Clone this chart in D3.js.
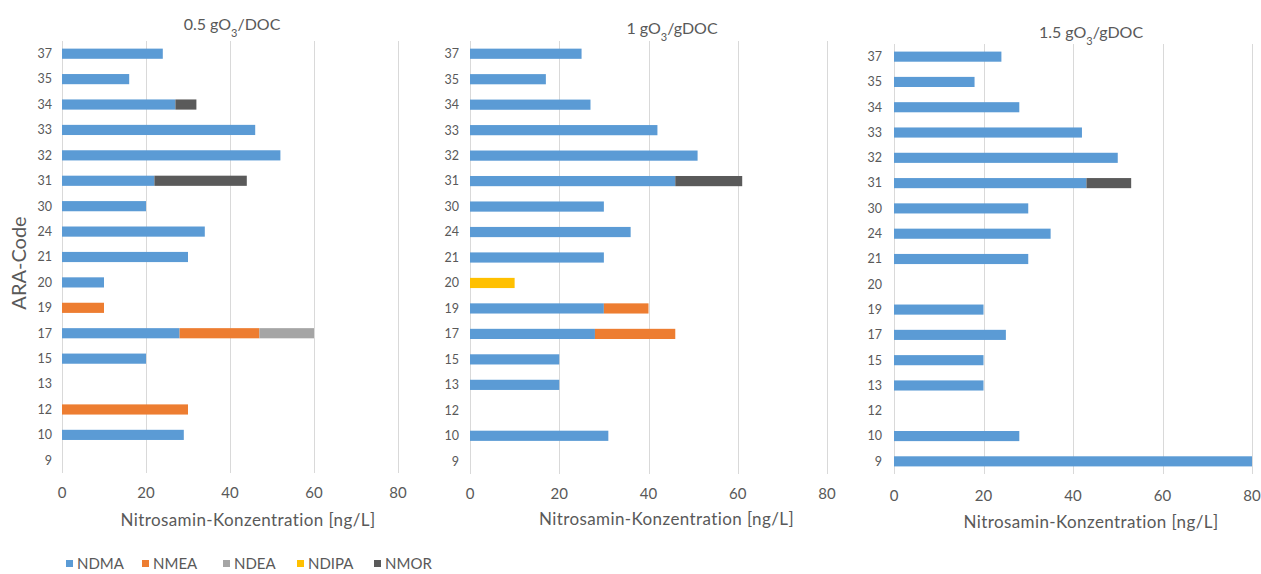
<!DOCTYPE html>
<html>
<head>
<meta charset="utf-8">
<script src="https://cdn.jsdelivr.net/npm/d3@7"></script>
<style>
  body { margin: 0; background: #fff; }
  svg text { font-family: Lato, "Open Sans", sans-serif; fill: #595959; }
</style>
</head>
<body>
<div id="chart"></div>
<script>
// ARA codes, top to bottom
var codes = ["37", "35", "34", "33", "32", "31", "30", "24", "21", "20", "19", "17", "15", "13", "12", "10", "9"];
var seriesNames = ["NDMA", "NMEA", "NDEA", "NDIPA", "NMOR"];
var seriesColors = ["#5b9bd5", "#ed7d31", "#a5a5a5", "#ffc000", "#5a5a5a"];
var xTicks = [0, 20, 40, 60, 80];

// 0.5 gO3/DOC
var ndma05  = [24, 16, 27, 46, 52, 22, 20, 34, 30, 10, 0, 28, 20, 0, 0, 29, 0];
var nmea05  = [0, 0, 0, 0, 0, 0, 0, 0, 0, 0, 10, 19, 0, 0, 30, 0, 0];
var ndea05  = [0, 0, 0, 0, 0, 0, 0, 0, 0, 0, 0, 13, 0, 0, 0, 0, 0];
var ndipa05 = [0, 0, 0, 0, 0, 0, 0, 0, 0, 0, 0, 0, 0, 0, 0, 0, 0];
var nmor05  = [0, 0, 5, 0, 0, 22, 0, 0, 0, 0, 0, 0, 0, 0, 0, 0, 0];

// 1 gO3/gDOC
var ndma10  = [25, 17, 27, 42, 51, 46, 30, 36, 30, 0, 30, 28, 20, 20, 0, 31, 0];
var nmea10  = [0, 0, 0, 0, 0, 0, 0, 0, 0, 0, 10, 18, 0, 0, 0, 0, 0];
var ndea10  = [0, 0, 0, 0, 0, 0, 0, 0, 0, 0, 0, 0, 0, 0, 0, 0, 0];
var ndipa10 = [0, 0, 0, 0, 0, 0, 0, 0, 0, 10, 0, 0, 0, 0, 0, 0, 0];
var nmor10  = [0, 0, 0, 0, 0, 15, 0, 0, 0, 0, 0, 0, 0, 0, 0, 0, 0];

// 1.5 gO3/gDOC
var ndma15  = [24, 18, 28, 42, 50, 43, 30, 35, 30, 0, 20, 25, 20, 20, 0, 28, 80];
var nmea15  = [0, 0, 0, 0, 0, 0, 0, 0, 0, 0, 0, 0, 0, 0, 0, 0, 0];
var ndea15  = [0, 0, 0, 0, 0, 0, 0, 0, 0, 0, 0, 0, 0, 0, 0, 0, 0];
var ndipa15 = [0, 0, 0, 0, 0, 0, 0, 0, 0, 0, 0, 0, 0, 0, 0, 0, 0];
var nmor15  = [0, 0, 0, 0, 0, 10, 0, 0, 0, 0, 0, 0, 0, 0, 0, 0, 0];

var width = 1261, height = 574;

var panels = [
  {title: ["0.5 gO", "3", "/DOC"], cols: [ndma05, nmea05, ndea05, ndipa05, nmor05],
   x0: 62, x1: 398, top: 41, bottom: 473, titleX: 232, titleY: 24, tickY: 493, labelY: 520, yLabelX: 52},
  {title: ["1 gO", "3", "/gDOC"], cols: [ndma10, nmea10, ndea10, ndipa10, nmor10],
   x0: 470, x1: 827, top: 41, bottom: 474, titleX: 672, titleY: 28, tickY: 494, labelY: 519, yLabelX: 459},
  {title: ["1.5 gO", "3", "/gDOC"], cols: [ndma15, nmea15, ndea15, ndipa15, nmor15],
   x0: 894, x1: 1252, top: 44, bottom: 474, titleX: 1091, titleY: 32, tickY: 496, labelY: 522, yLabelX: 882}
];

var svg = d3.select("#chart").append("svg")
    .attr("width", width)
    .attr("height", height);

panels.forEach(function(p) {
  var rows = codes.map(function(c, i) {
    var r = {code: c};
    seriesNames.forEach(function(s, j) { r[s] = p.cols[j][i]; });
    return r;
  });
  var stacked = d3.stack().keys(seriesNames)(rows);

  var x = d3.scaleLinear().domain([0, 80]).range([p.x0, p.x1]);
  var y = d3.scaleBand().domain(codes).range([p.top, p.bottom])
      .paddingInner(0.6).paddingOuter(0.3);

  var g = svg.append("g");

  // vertical gridlines
  g.selectAll(".grid").data(xTicks).enter().append("line")
      .attr("x1", function(d) { return Math.round(x(d)) + 0.5; })
      .attr("x2", function(d) { return Math.round(x(d)) + 0.5; })
      .attr("y1", p.top)
      .attr("y2", p.bottom)
      .attr("stroke", "#d9d9d9")
      .attr("stroke-width", 1);

  // bars
  g.selectAll(".layer").data(stacked).enter().append("g")
      .attr("fill", function(d, i) { return seriesColors[i]; })
    .selectAll("rect").data(function(d) { return d; }).enter().append("rect")
      .attr("x", function(d) { return x(d[0]); })
      .attr("y", function(d) { return y(d.data.code); })
      .attr("width", function(d) { return x(d[1]) - x(d[0]); })
      .attr("height", y.bandwidth());

  // y tick labels
  g.selectAll(".ylab").data(codes).enter().append("text")
      .attr("x", p.yLabelX)
      .attr("y", function(d) { return y(d) + y.bandwidth() / 2; })
      .attr("dy", "0.35em")
      .attr("text-anchor", "end")
      .style("font-size", "12.5px")
      .text(function(d) { return d; });

  // x tick labels
  g.selectAll(".xlab").data(xTicks).enter().append("text")
      .attr("x", function(d) { return x(d); })
      .attr("y", p.tickY)
      .attr("dy", "0.35em")
      .attr("text-anchor", "middle")
      .style("font-size", "15px")
      .text(function(d) { return d; });

  // x axis title
  g.append("text")
      .attr("x", (p.x0 + p.x1) / 2 + 18)
      .attr("y", p.labelY)
      .attr("dy", "0.35em")
      .attr("text-anchor", "middle")
      .style("font-size", "17px")
      .style("letter-spacing", "0.4px")
      .text("Nitrosamin-Konzentration [ng/L]");

  // panel title with subscript
  var t = g.append("text")
      .attr("x", p.titleX)
      .attr("y", p.titleY)
      .attr("dy", "0.35em")
      .attr("text-anchor", "middle")
      .style("font-size", "16px");
  t.append("tspan").text(p.title[0]);
  t.append("tspan").attr("baseline-shift", "sub").style("font-size", "11px").text(p.title[1]);
  t.append("tspan").text(p.title[2]);
});

// y axis title
svg.append("text")
    .attr("transform", "translate(19,263) rotate(-90)")
    .attr("dy", "0.35em")
    .attr("text-anchor", "middle")
    .style("font-size", "20px")
    .text("ARA-Code");

// legend
var legendX = [66, 142, 223, 297, 374];
var legend = svg.selectAll(".legend").data(seriesNames).enter().append("g")
    .attr("transform", function(d, i) { return "translate(" + legendX[i] + ",564)"; });
legend.append("rect")
    .attr("x", 0).attr("y", -4)
    .attr("width", 7).attr("height", 7)
    .attr("fill", function(d, i) { return seriesColors[i]; });
legend.append("text")
    .attr("x", 11)
    .attr("y", 0)
    .attr("dy", "0.35em")
    .style("font-size", "15px")
    .text(function(d) { return d; });
</script>
</body>
</html>
